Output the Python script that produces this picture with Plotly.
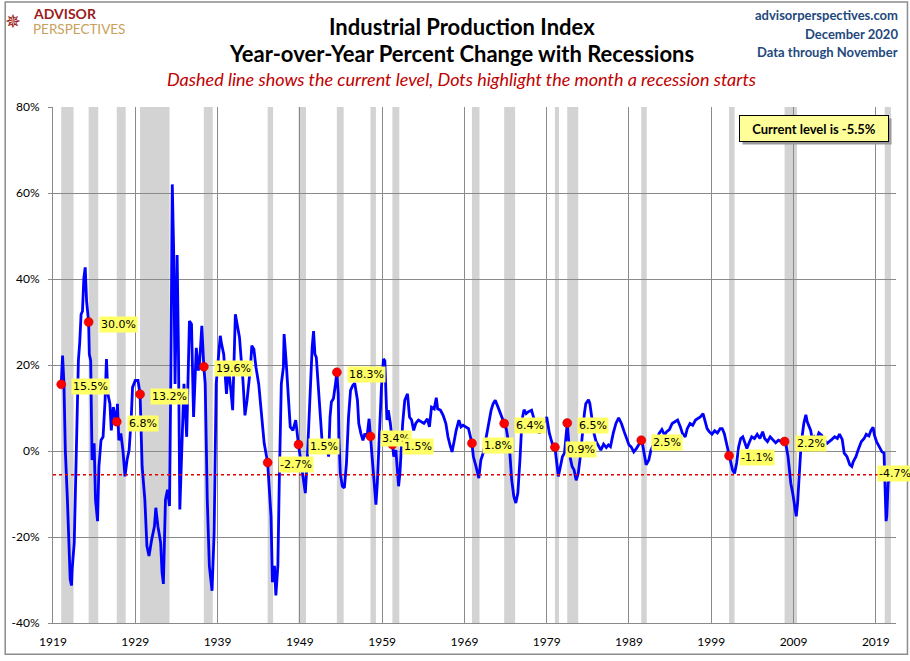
import plotly.graph_objects as go

# year-over-year % change of industrial production (month, value)
yoy_1920s = [
	("1920-01", 15.5), ("1920-03", 22.2), ("1920-05", 15.6), ("1920-07", 0.2), ("1920-10", -11.3),
	("1921-02", -29.8), ("1921-04", -31.3), ("1921-05", -27.5), ("1921-08", -21.3), ("1921-11", -1.3),
	("1922-02", 21.0), ("1922-04", 25.2), ("1922-06", 31.8), ("1922-08", 32.5), ("1922-10", 40.2), ("1922-12", 42.7),
	("1923-02", 34.8), ("1923-05", 30.0), ("1923-06", 22.5), ("1923-08", 21.0), ("1923-10", -2.1),
	("1924-01", 1.8), ("1924-03", -11.3), ("1924-06", -16.3), ("1924-08", -3.6), ("1924-11", 2.5),
	("1925-02", 3.3), ("1925-05", 11.8), ("1925-07", 21.4), ("1925-09", 13.3), ("1925-12", 11.0),
	("1926-02", 4.8), ("1926-05", 10.2), ("1926-08", 8.0), ("1926-10", 6.8), ("1926-11", 11.0),
	("1927-01", 2.5), ("1927-04", 4.1), ("1927-07", 0.2), ("1927-10", -5.9),
	("1928-01", -2.1), ("1928-04", 0.2), ("1928-07", 7.2), ("1928-09", 14.8),
	("1929-01", 16.4), ("1929-05", 16.4), ("1929-08", 13.2), ("1929-11", -3.6),
]
yoy_1930s = [
	("1930-03", -11.3), ("1930-06", -22.1), ("1930-09", -24.4),
	("1931-01", -20.5), ("1931-05", -17.5), ("1931-07", -13.2), ("1931-10", -17.5),
	("1932-02", -21.3), ("1932-04", -28.2), ("1932-06", -30.9), ("1932-09", -11.3), ("1932-12", -9.0),
	("1933-03", -12.8), ("1933-05", 19.5), ("1933-07", 62.0), ("1933-09", 46.4), ("1933-11", 15.6),
	("1934-02", 45.6), ("1934-04", 23.3), ("1934-06", -13.6), ("1934-09", 4.1), ("1934-12", 15.6),
	("1935-04", 3.3), ("1935-08", 30.2), ("1935-11", 29.5),
	("1936-02", 7.9), ("1936-06", 24.0), ("1936-09", 18.7), ("1936-11", 21.0),
	("1937-02", 29.1), ("1937-05", 19.6), ("1937-07", 15.6), ("1937-10", -11.3),
	("1938-01", -26.7), ("1938-05", -32.5), ("1938-08", -19.0), ("1938-11", 15.6),
	("1939-02", 22.5), ("1939-05", 26.8), ("1939-07", 24.8), ("1939-10", 22.5),
]
yoy_1940s = [
	("1940-02", 13.3), ("1940-05", 19.5), ("1940-08", 14.8), ("1940-11", 9.5),
	("1941-03", 31.8), ("1941-06", 29.5), ("1941-09", 26.4), ("1941-12", 20.2),
	("1942-02", 16.4), ("1942-05", 8.3), ("1942-08", 11.8),
	("1943-01", 19.5), ("1943-03", 24.5), ("1943-06", 23.7), ("1943-09", 19.5),
	("1944-01", 15.6), ("1944-04", 10.2), ("1944-06", 7.9), ("1944-09", 1.8),
	("1945-02", -2.7), ("1945-05", -9.8), ("1945-07", -15.2), ("1945-09", -30.5), ("1945-12", -26.7),
	("1946-02", -33.6), ("1946-05", -26.7), ("1946-07", -7.5), ("1946-10", 15.6),
	("1947-01", 19.5), ("1947-02", 27.2), ("1947-05", 21.0), ("1947-08", 11.8), ("1947-11", 5.6),
	("1948-03", 4.8), ("1948-07", 7.2), ("1948-11", 1.5),
	("1949-03", -2.8), ("1949-07", -8.2), ("1949-09", -9.8), ("1949-12", -1.3),
]
yoy_1950s = [
	("1950-03", 11.0), ("1950-06", 20.2), ("1950-07", 24.1), ("1950-09", 27.9), ("1950-11", 22.5),
	("1951-01", 21.8), ("1951-04", 14.1), ("1951-07", 6.4), ("1951-10", 1.0),
	("1952-01", -0.5), ("1952-04", 1.8), ("1952-07", -1.3), ("1952-09", 7.9), ("1952-11", 11.4),
	("1953-02", 12.2), ("1953-05", 15.6), ("1953-07", 18.3), ("1953-09", 13.3), ("1953-10", 3.3), ("1953-12", -5.2),
	("1954-03", -8.2), ("1954-06", -8.6), ("1954-09", -2.8), ("1954-12", 7.9),
	("1955-03", 14.1), ("1955-06", 15.2), ("1955-09", 15.8),
	("1956-01", 11.8), ("1956-03", 6.4), ("1956-06", 4.1), ("1956-09", 2.5), ("1956-12", 4.1),
	("1957-03", 3.3), ("1957-06", 7.5), ("1957-08", 3.4), ("1957-10", 0.2),
	("1958-01", -7.5), ("1958-04", -12.5), ("1958-06", -7.5), ("1958-09", 3.3), ("1958-12", 14.8),
	("1959-03", 21.4), ("1959-05", 21.0), ("1959-08", 7.2), ("1959-10", 9.5),
]
yoy_1960s = [
	("1960-01", 6.4), ("1960-04", 1.5), ("1960-06", -1.3), ("1960-09", 0.2),
	("1961-01", -8.2), ("1961-03", -5.2), ("1961-07", 6.4), ("1961-10", 11.8),
	("1962-02", 13.3), ("1962-05", 7.9), ("1962-08", 7.2), ("1962-11", 4.8),
	("1963-02", 6.4), ("1963-06", 7.2), ("1963-10", 6.8),
	("1964-02", 6.4), ("1964-07", 7.5), ("1964-10", 5.6),
	("1965-01", 10.2), ("1965-05", 9.8), ("1965-08", 12.4), ("1965-10", 9.8),
	("1966-02", 9.5), ("1966-06", 8.3), ("1966-10", 6.4),
	("1967-01", 3.3), ("1967-04", 1.4), ("1967-07", -0.2), ("1967-10", 2.2),
	("1968-01", 4.8), ("1968-05", 7.2), ("1968-08", 5.6), ("1968-11", 6.0),
	("1969-03", 5.6), ("1969-07", 5.2), ("1969-12", 1.8),
]
yoy_1970s = [
	("1970-02", -1.3), ("1970-06", -3.6), ("1970-10", -6.3),
	("1971-01", -2.1), ("1971-05", -0.2), ("1971-08", 2.5), ("1971-12", 6.4),
	("1972-04", 9.5), ("1972-07", 11.0), ("1972-10", 11.8),
	("1973-02", 10.2), ("1973-06", 8.7), ("1973-11", 6.4),
	("1974-02", 5.2), ("1974-04", 3.3), ("1974-07", 0.2), ("1974-10", -6.7),
	("1975-01", -10.5), ("1975-04", -12.1), ("1975-07", -9.8), ("1975-10", -2.1),
	("1976-01", 7.2), ("1976-04", 9.6), ("1976-07", 8.7), ("1976-10", 9.1),
	("1977-03", 9.5), ("1977-07", 7.2), ("1977-11", 6.8),
	("1978-02", 4.1), ("1978-06", 5.6), ("1978-10", 6.8),
	("1979-01", 7.9), ("1979-05", 4.1), ("1979-09", 1.8),
]
yoy_1980s = [
	("1980-01", 0.9), ("1980-03", -1.3), ("1980-06", -5.9), ("1980-09", -3.6), ("1980-12", -1.3),
	("1981-03", -0.5), ("1981-07", 6.5), ("1981-09", 2.5), ("1981-11", -1.3),
	("1982-02", -3.6), ("1982-05", -4.4), ("1982-08", -6.8), ("1982-11", -5.2),
	("1983-02", -1.3), ("1983-05", 4.1), ("1983-08", 8.7), ("1983-10", 11.0),
	("1984-02", 11.9), ("1984-04", 11.0), ("1984-07", 7.9), ("1984-10", 4.1),
	("1985-01", 2.2), ("1985-04", 1.4), ("1985-08", 0.2), ("1985-12", 1.6),
	("1986-04", 0.8), ("1986-07", 1.4), ("1986-10", 1.0),
	("1987-02", 4.1), ("1987-06", 6.4), ("1987-10", 7.7),
	("1988-02", 6.4), ("1988-06", 4.5), ("1988-10", 2.9),
	("1989-01", 1.4), ("1989-04", 1.0), ("1989-08", -0.2), ("1989-12", 0.6),
]
yoy_1990s = [
	("1990-07", 2.5), ("1990-09", 1.4), ("1990-11", -0.5),
	("1991-02", -3.2), ("1991-06", -2.1), ("1991-09", 0.2),
	("1992-01", 1.6), ("1992-05", 2.5), ("1992-09", 4.1),
	("1993-01", 5.0), ("1993-05", 3.7), ("1993-08", 4.5), ("1993-12", 5.0),
	("1994-04", 6.4), ("1994-08", 6.8), ("1994-12", 7.2),
	("1995-04", 5.6), ("1995-07", 4.1), ("1995-11", 3.3),
	("1996-02", 5.2), ("1996-06", 6.4), ("1996-10", 6.0),
	("1997-02", 7.2), ("1997-06", 7.5), ("1997-09", 7.9),
	("1998-01", 8.7), ("1998-04", 6.8), ("1998-07", 5.2), ("1998-10", 4.5),
	("1999-02", 3.9), ("1999-06", 4.7), ("1999-10", 4.2),
]
yoy_2000s = [
	("2000-02", 5.2), ("2000-05", 5.2), ("2000-08", 4.1), ("2000-11", 1.8),
	("2001-03", -1.1), ("2001-05", -2.8), ("2001-08", -4.4), ("2001-11", -5.2),
	("2002-02", -2.8), ("2002-05", 1.0), ("2002-08", 2.9), ("2002-11", 3.3),
	("2003-02", 1.8), ("2003-05", 0.6), ("2003-08", 1.8), ("2003-12", 3.3),
	("2004-04", 2.9), ("2004-08", 3.9), ("2004-12", 2.9),
	("2005-04", 4.5), ("2005-07", 2.9), ("2005-11", 2.2),
	("2006-03", 3.3), ("2006-07", 2.5), ("2006-11", 1.9),
	("2007-03", 2.5), ("2007-07", 2.2), ("2007-12", 2.2),
	("2008-02", 1.4), ("2008-05", -1.3), ("2008-09", -7.5), ("2008-12", -10.0),
	("2009-03", -13.5), ("2009-05", -15.2), ("2009-07", -12.0), ("2009-09", -6.0), ("2009-12", 1.5),
]
yoy_2010s = [
	("2010-04", 6.4), ("2010-07", 8.4), ("2010-09", 6.8), ("2010-11", 6.0),
	("2011-02", 4.8), ("2011-04", 2.9), ("2011-07", 3.3), ("2011-10", 2.2),
	("2012-02", 4.2), ("2012-06", 3.7), ("2012-10", 2.5),
	("2013-02", 1.8), ("2013-06", 2.2), ("2013-09", 2.7),
	("2014-01", 3.3), ("2014-05", 2.9), ("2014-08", 3.9), ("2014-12", 2.7),
	("2015-03", -0.5), ("2015-07", -1.3), ("2015-11", -3.2),
	("2016-02", -3.6), ("2016-04", -2.5), ("2016-08", -1.3), ("2016-12", 0.6),
	("2017-04", 2.2), ("2017-08", 2.9), ("2017-11", 3.9),
	("2018-03", 3.5), ("2018-06", 4.8), ("2018-09", 5.5), ("2018-11", 3.7),
	("2019-02", 2.2), ("2019-06", 1.0), ("2019-10", -0.2),
]
yoy_2020 = [
	("2020-01", -0.5), ("2020-02", -4.7), ("2020-04", -16.3), ("2020-05", -15.2), ("2020-06", -10.5),
	("2020-07", -7.4), ("2020-08", -7.0), ("2020-09", -6.7), ("2020-10", -5.3), ("2020-11", -5.5),
]

# NBER recessions (last one shaded to the end of the data)
rec_start = ["1920-01", "1923-05", "1926-10", "1929-08", "1937-05", "1945-02", "1948-11", "1953-07", "1957-08",
	"1960-04", "1969-12", "1973-11", "1980-01", "1981-07", "1990-07", "2001-03", "2007-12", "2020-02"]
rec_end = ["1921-07", "1924-07", "1927-11", "1933-03", "1938-06", "1945-10", "1949-10", "1954-05", "1958-04",
	"1961-02", "1970-11", "1975-03", "1980-07", "1982-11", "1991-03", "2001-11", "2009-06", "2020-11"]
rec_start_yoy = [15.5, 30.0, 6.8, 13.2, 19.6, -2.7, 1.5, 18.3, 3.4, 1.5, 1.8, 6.4, 0.9, 6.5, 2.5, -1.1, 2.2, -4.7]

current_level = -5.5
y_tick_vals = [-40, -20, 0, 20, 40, 60, 80]
y_tick_labels = ["-40%", "-20%", "0%", "20%", "40%", "60%", "80%"]

FONT = "Lato, Carlito, Calibri, sans-serif"


def header_text(fig, text, x, y, size, color, xanchor="center"):
	fig.add_annotation(xref="paper", yref="paper", x=x, y=y, xanchor=xanchor, yanchor="middle", text=text,
		showarrow=False, font=dict(family=FONT, size=size, color=color))


def build_figure():
	points = yoy_1920s + yoy_1930s + yoy_1940s + yoy_1950s + yoy_1960s + yoy_1970s + yoy_1980s + yoy_1990s + yoy_2000s + yoy_2010s + yoy_2020
	dates = [d + "-01" for d, v in points]
	vals = [v for d, v in points]

	fig = go.Figure()
	fig.add_trace(go.Scatter(x=dates, y=vals, mode="lines", line=dict(color="#0000ff", width=2.8), hoverinfo="skip"))
	fig.add_trace(go.Scatter(x=[d + "-01" for d in rec_start], y=rec_start_yoy, mode="markers",
		marker=dict(color="#ff0000", size=9, line=dict(color="#b00000", width=0.5))))

	for s, e in zip(rec_start, rec_end):
		fig.add_shape(type="rect", xref="x", yref="paper", x0=s + "-01", x1=e + "-01", y0=0, y1=1,
			fillcolor="#d3d3d3", line_width=0, layer="below")

	fig.add_shape(type="line", xref="paper", yref="y", x0=0, x1=1, y0=current_level, y1=current_level,
		line=dict(color="#e00000", width=1.5, dash="dot"))

	for i, (d, v) in enumerate(zip(rec_start, rec_start_yoy)):
		# the last label sits over its dot, at the right edge
		shift = -8 if i == len(rec_start) - 1 else 10
		fig.add_annotation(x=d + "-01", y=v, text="%.1f%%" % v, showarrow=False, xanchor="left", xshift=shift, yshift=-2,
			font=dict(family="DejaVu Sans", size=11, color="black"), bgcolor="#ffff66", borderpad=1)

	# current level box, with a grey shadow behind it
	fig.add_annotation(xref="paper", yref="paper", x=0.9917, y=0.9846, xanchor="right", yanchor="top", xshift=3, yshift=-3,
		text=" ", width=146, height=23, bgcolor="#9a9a9a", showarrow=False)
	fig.add_annotation(xref="paper", yref="paper", x=0.9917, y=0.9846, xanchor="right", yanchor="top",
		text="<b>Current level is %.1f%%</b>" % current_level, width=146, height=23, bgcolor="#ffff99",
		bordercolor="black", borderwidth=1, showarrow=False, font=dict(family=FONT, size=13, color="black"))

	# header
	header_text(fig, "<b>Industrial Production Index</b>", 0.4848, 1.1555, 22, "black")
	header_text(fig, "<b>Year-over-Year Percent Change with Recessions</b>", 0.4848, 1.1036, 22, "black")
	header_text(fig, "<i>Dashed line shows the current level, Dots highlight the month a recession starts</i>",
		0.4848, 1.0537, 18, "#c00000")
	for txt, yy in [("advisorperspectives.com", 1.1785), ("December 2020", 1.1420), ("Data through November", 1.1075)]:
		header_text(fig, "<b>%s</b>" % txt, 1.0047, yy, 13, "#1f497d", xanchor="right")
	header_text(fig, "<b>ADVISOR</b>", -0.0265, 1.1815, 14, "#9b1c20", xanchor="left")
	header_text(fig, "PERSPECTIVES", -0.0265, 1.1515, 13.5, "#c9a15b", xanchor="left")
	fig.add_annotation(xref="paper", yref="paper", x=-0.0475, y=1.166, xanchor="center", yanchor="middle", text="✵",
		showarrow=False, font=dict(family="DejaVu Sans", size=19, color="#9b1c20"))

	# outer frame
	fig.add_shape(type="rect", xref="paper", yref="paper", x0=-0.0567, x1=1.0136, y0=-0.0605, y1=1.2035,
		line=dict(color="#8c8c8c", width=1.5))

	fig.update_xaxes(type="date", range=["1919-01-01", "2021-06-15"], tick0="1919-01-01", dtick="M120", tickformat="%Y",
		showgrid=True, gridcolor="#8a8a8a", gridwidth=1, showline=True, linecolor="#8a8a8a", linewidth=1,
		ticks="", ticklabelstandoff=8, tickfont=dict(family=FONT, size=12, color="black"))
	fig.update_yaxes(range=[-40, 80], tickvals=y_tick_vals, ticktext=y_tick_labels,
		showgrid=True, gridcolor="#8a8a8a", gridwidth=1, zeroline=False, showline=True, linecolor="#8a8a8a", linewidth=1,
		ticks="outside", ticklen=4, tickcolor="#8a8a8a", ticklabelstandoff=6, tickfont=dict(family=FONT, size=12, color="black"))

	fig.update_layout(width=910, height=661, margin=dict(l=49, r=14, t=107, b=33), showlegend=False,
		paper_bgcolor="white", plot_bgcolor="white")
	return fig


def main():
	fig = build_figure()
	# the page's default body margin would push the chart off the window
	fig.write_html("out.html", config={"displayModeBar": False},
		post_script="document.body.style.margin='0';")


if __name__ == '__main__':
	main()
